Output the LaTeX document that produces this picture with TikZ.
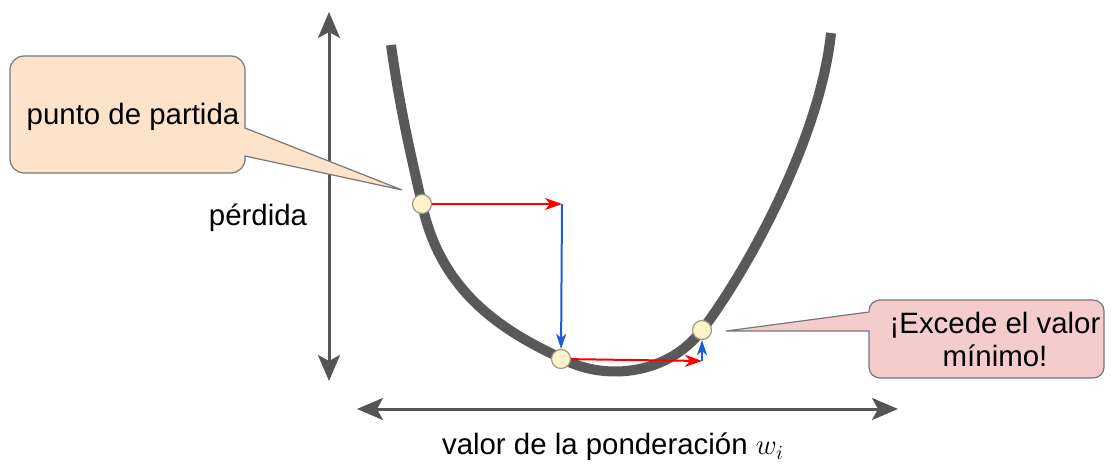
\documentclass[tikz,border=0pt]{standalone}
\usepackage{fontspec}
\setmainfont{Liberation Sans}
\usepackage{xcolor}
\usetikzlibrary{arrows.meta, calc}

\definecolor{curvegray}{HTML}{595959}
\definecolor{axisgray}{HTML}{555555}
\definecolor{peach}{HTML}{FCE3CA}
\definecolor{rosa}{HTML}{F4CCCC}
\definecolor{cream}{HTML}{FFF2CC}
\definecolor{rimgray}{HTML}{A09A80}
\definecolor{boxgray}{HTML}{777777}
\definecolor{stepblue}{HTML}{1A5FD6}
\definecolor{stepred}{HTML}{FF0000}

\tikzset{
  axisline/.style={axisgray, line width=1.5pt,
    {Stealth[length=13pt, width=11pt, inset=3pt]}-{Stealth[length=13pt, width=11pt, inset=3pt]}},
  losscurve/.style={curvegray, line width=5pt},
  weightpt/.style={circle, draw=rimgray, fill=cream, line width=0.6pt, inner sep=0pt, minimum size=9.5pt},
  redstep/.style={stepred, line width=1pt, -{Stealth[length=8.5pt, width=6pt, inset=2.5pt]}},
  bluestep/.style={stepblue, line width=1pt, -{Stealth[length=7.5pt, width=5pt, inset=2pt]}},
  calloutline/.style={draw=boxgray, line width=0.6pt},
  txt/.style={inner sep=0pt}
}

\begin{document}
\begin{tikzpicture}[x=0.5pt, y=-0.5pt, font=\fontsize{14.7}{16.5}\selectfont]
  \useasboundingbox (0,0) rectangle (1112,466);

  % Axes
  \coordinate (ytop) at (329,12);
  \coordinate (ybot) at (329,381);
  \coordinate (xleft) at (357,409);
  \coordinate (xright) at (898,409);
  \draw[axisline] (ybot) -- (ytop);
  \draw[axisline] (xleft) -- (xright);
  \node[txt] (loss) at (258,218) {pérdida};
  \node[txt] (weight) at (613,447) {valor de la ponderación $w_i$};

  % Loss curve (pixel coords, y down)
  \draw[losscurve] (391,45) .. controls (400,110) and (412,160) .. (422,204)
    .. controls (440,290) and (500,330) .. (561,358)
    .. controls (600,380) and (665,378) .. (702,330)
    .. controls (745,274) and (820,140) .. (831,33);

  % Callouts (tail corners kept sharp)
  \coordinate (tipA) at (402,190);
  \draw[calloutline, fill=peach] (128,56) [rounded corners=7pt] -- (245,56)
    [sharp corners] -- (245,128) -- (tipA) -- (245,156) -- (245,162)
    [rounded corners=7pt] -- (245,173) -- (10,173) -- (10,56) -- cycle;
  \node[txt] (start) at (133,117) {punto de partida};

  \coordinate (tipB) at (726,331);
  \draw[calloutline, fill=rosa] (986,300) [rounded corners=5.5pt] -- (869,300)
    [sharp corners] -- (869,312) -- (tipB) -- (869,331) -- (869,340)
    [rounded corners=5.5pt] -- (869,378) -- (1104,378) -- (1104,300) -- cycle;
  \node[txt, align=center] (excede) at (995,339) {¡Excede el valor\\mínimo!};

  % Gradient steps
  \node[weightpt] (p1) at (422,204) {};
  \node[weightpt] (p2) at (561,359) {};
  \node[weightpt] (p3) at (702,330) {};
  \coordinate (c1) at (562,204);
  \coordinate (c2) at (702,361);
  \draw[redstep] (p1) -- (c1);
  \draw[bluestep] (c1) -- (p2);
  \draw[redstep] (p2) -- (c2);
  \draw[bluestep] (c2) -- (p3);
\end{tikzpicture}
\end{document}
